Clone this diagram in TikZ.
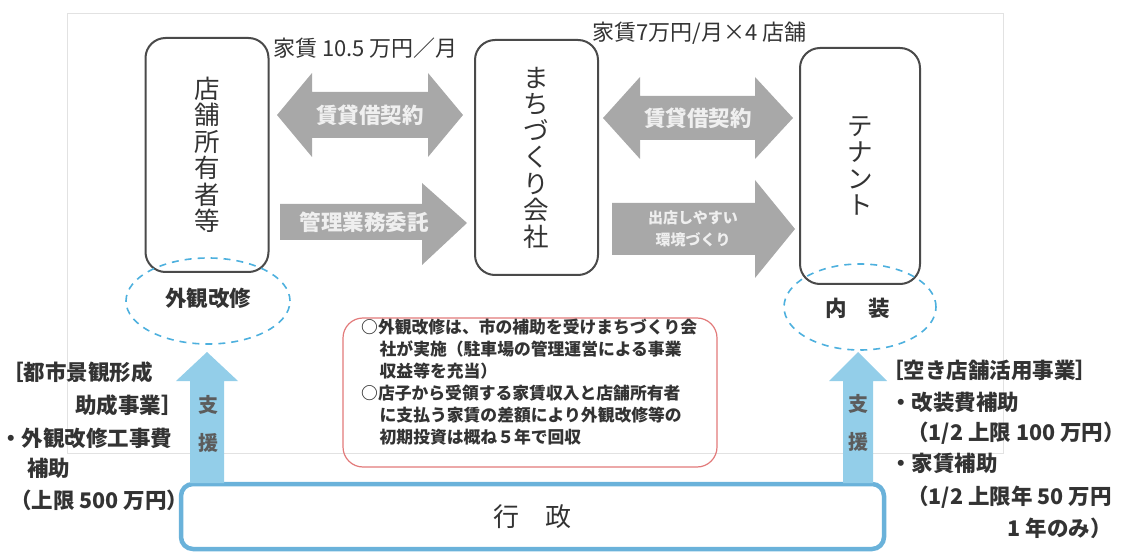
\documentclass[tikz,border=0pt]{standalone}
\usepackage{fontspec}
\setmainfont{Noto Sans CJK JP}
\usetikzlibrary{shapes.geometric}
\definecolor{boxline}{HTML}{4A4A4A}
\definecolor{arrowgray}{HTML}{A8A8A8}
\definecolor{arrowtext}{HTML}{EFEFEF}
\definecolor{dashblue}{HTML}{4DB0DE}
\definecolor{supblue}{HTML}{93CEE9}
\definecolor{govblue}{HTML}{6AB2DA}
\definecolor{notered}{HTML}{E27A7A}
\definecolor{txt}{HTML}{333333}
\definecolor{frameline}{HTML}{E2E2E2}
\begin{document}
\begin{tikzpicture}[x=1pt,y=-1pt,
  actor/.style={draw=boxline, line width=2pt, rounded corners=20pt, align=center, inner sep=0pt, font=\fontsize{25.5}{26.5}\selectfont, text=txt},
  blockarrow/.style={fill=arrowgray},
  arrowlabel/.style={text=arrowtext, font=\bfseries\fontsize{21.5}{22}\selectfont, inner sep=0pt},
  smalllabel/.style={text=arrowtext, font=\bfseries\fontsize{15}{22}\selectfont, inner sep=0pt, align=center},
  toplabel/.style={text=txt, font=\fontsize{22}{24}\selectfont, inner sep=0pt, anchor=west},
  dashell/.style={draw=dashblue, line width=1.6pt, dash pattern=on 7pt off 6pt, ellipse, inner sep=0pt},
  elltext/.style={text=txt, font=\bfseries\fontsize{21.5}{22}\selectfont, inner sep=0pt},
  support/.style={fill=supblue},
  suplabel/.style={text=txt!80, font=\bfseries\fontsize{20}{38}\selectfont, align=center, inner sep=0pt},
  sidetext/.style={text=txt, font=\bfseries\fontsize{21.5}{22}\selectfont, inner sep=0pt},
  notetext/.style={text=txt, font=\bfseries\fontsize{16.8}{22}\selectfont, inner sep=0pt, align=left, anchor=west}
]
\useasboundingbox (0,0) rectangle (1132,553);
% faint page frame
\draw[frameline, line width=0.8pt] (67,13) rectangle (1003,453);

% main actors
\node[actor, minimum width=123, minimum height=234] (owner) at (207,155) {店\\舗\\所\\有\\者\\等};
\node[actor, minimum width=123, minimum height=235] (machi) at (536.5,157.5) {ま\\ち\\づ\\く\\り\\会\\社};
\node[actor, minimum width=120, minimum height=236] (tenant) at (860,166) {テ\\ナ\\ン\\ト};

% top labels
\node[toplabel] (rent1) at (273,48) {家賃 10.5 万円／月};
\node[toplabel] (rent2) at (592,33) {家賃7万円/月×4 店舗};

% block arrows owner <-> machi
\fill[blockarrow] (277,115) -- (312,73) -- (312,92) -- (428,92) -- (428,73) -- (463,115)
  -- (428,157) -- (428,138) -- (312,138) -- (312,157) -- cycle;
\node[arrowlabel] (lease1) at (370,115) {賃貸借契約};
\fill[blockarrow] (280,204) -- (422,204) -- (422,183) -- (467,223) -- (422,265) -- (422,240) -- (280,240) -- cycle;
\node[arrowlabel] (consign) at (364,222) {管理業務委託};

% block arrows machi <-> tenant
\fill[blockarrow] (603,118) -- (640,77) -- (640,96) -- (755,96) -- (755,77) -- (793,118)
  -- (755,159) -- (755,140) -- (640,140) -- (640,159) -- cycle;
\node[arrowlabel] (lease2) at (698,118) {賃貸借契約};
\fill[blockarrow] (612,203) -- (755,203) -- (755,180) -- (795,229) -- (755,278) -- (755,255) -- (612,255) -- cycle;
\node[smalllabel] (env) at (693,229) {出店しやすい\\環境づくり};

% dashed ellipses
\node[dashell, minimum width=164, minimum height=86] (facade) at (208,301) {};
\node[elltext] (facadet) at (208,298) {外観改修};
\node[dashell, minimum width=152, minimum height=86] (interior) at (860,307) {};
\node[elltext] (interiort) at (858,308) {内　装};

% government box
\node[draw=govblue, line width=4.5pt, rounded corners=12pt, minimum width=703, minimum height=65,
  font=\fontsize{26}{28}\selectfont, text=txt, inner sep=0pt] (gov) at (532.5,516.5) {行　政};

% support arrows
\fill[support] (190,483) -- (190,381) -- (176,381) -- (207,352) -- (238,381) -- (224,381) -- (224,483) -- cycle;
\node[suplabel] (sup1) at (208,424) {支\\援};
\fill[support] (843,483) -- (843,381) -- (829,381) -- (858,352) -- (887,381) -- (873,381) -- (873,483) -- cycle;
\node[suplabel] (sup2) at (858,423) {支\\援};

% note box
\node[draw=notered, line width=1.2pt, rounded corners=20pt, minimum width=374, minimum height=149] (note) at (530,392.5) {};
\node[notetext] (notet) at (361,382.5) {○外観改修は、市の補助を受けまちづくり会\\
\hspace*{1.1em}社が実施（駐車場の管理運営による事業\\
\hspace*{1.1em}収益等を充当）\\
○店子から受領する家賃収入と店舗所有者\\
\hspace*{1.1em}に支払う家賃の差額により外観改修等の\\
\hspace*{1.1em}初期投資は概ね５年で回収};

% left side text
\node[sidetext, anchor=west] (l1) at (2,372) {［都市景観形成};
\node[sidetext, anchor=east] (l2) at (183,405) {助成事業］};
\node[sidetext, anchor=west] (l3) at (0,438) {・外観改修工事費};
\node[sidetext, anchor=west] (l4) at (27,468) {補助};
\node[sidetext, anchor=west] (l5) at (10,500) {（上限 500 万円）};

% right side text
\node[sidetext, anchor=west] (r1) at (882,370) {［空き店舗活用事業］};
\node[sidetext, anchor=west] (r2) at (890,402) {・改装費補助};
\node[sidetext, anchor=west] (r3) at (907,433) {（1/2 上限 100 万円）};
\node[sidetext, anchor=west] (r4) at (890,463) {・家賃補助};
\node[sidetext, anchor=west] (r5) at (907,497) {（1/2 上限年 50 万円};
\node[sidetext, anchor=east] (r6) at (1112,528) {1 年のみ）};
\end{tikzpicture}
\end{document}
